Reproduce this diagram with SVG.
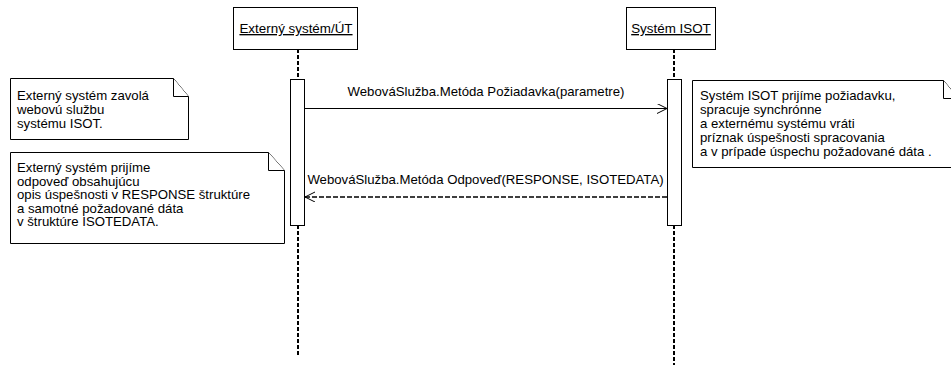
<svg xmlns="http://www.w3.org/2000/svg" width="951" height="365" viewBox="0 0 951 365">
<defs>
<style>
text{font-family:"Liberation Sans",Arial,sans-serif;font-size:13.2px;fill:#000}
.box{fill:#fff;stroke:#000;stroke-width:1}
.life{stroke:#000;stroke-width:2;stroke-dasharray:4 2;fill:none}
.note{fill:#fff;stroke:#000;stroke-width:1}
.msg{stroke:#000;stroke-width:1;fill:none}
.ret{stroke:#000;stroke-width:1.5;stroke-dasharray:5 2;fill:none}
.lbl{text-decoration:underline;font-size:13.4px}
</style>
<marker id="open" markerWidth="12" markerHeight="12" refX="10" refY="5" orient="auto" markerUnits="userSpaceOnUse">
<path d="M0,0 L10,5 L0,10" fill="none" stroke="#000" stroke-width="1"/>
</marker>
</defs>
<rect width="951" height="365" fill="#fff"/>

<g id="lifelines">
<line class="life" x1="298" y1="49" x2="298" y2="79"/>
<line class="life" x1="298" y1="225" x2="298" y2="357"/>
<line class="life" x1="674" y1="49" x2="674" y2="79"/>
<line class="life" x1="674" y1="225" x2="674" y2="365"/>
</g>

<g id="actor-externy">
<rect class="box" x="233.5" y="7.5" width="124" height="42"/>
<text class="lbl" x="296" y="33" text-anchor="middle">Externý systém/ÚT</text>
</g>
<g id="actor-isot">
<rect class="box" x="626.5" y="7.5" width="89" height="42"/>
<text class="lbl" x="671" y="33" text-anchor="middle">Systém ISOT</text>
</g>

<g id="activation-externy">
<rect class="box" x="290.5" y="79.5" width="14" height="146"/>
</g>
<g id="activation-isot">
<rect class="box" x="667.5" y="79.5" width="14" height="146"/>
</g>

<g id="connectors">
<line class="msg" x1="305" y1="108.5" x2="667" y2="108.5" marker-end="url(#open)"/>
<text x="486" y="96" text-anchor="middle">WebováSlužba.Metóda Požiadavka(parametre)</text>
<line class="ret" x1="667" y1="197" x2="305" y2="197" marker-end="url(#open)"/>
<text x="485.5" y="184" text-anchor="middle">WebováSlužba.Metóda Odpoveď(RESPONSE, ISOTEDATA)</text>
</g>

<g id="note-1">
<path class="note" d="M10.5,78.5 H173.5 L188.5,96.5 V139.5 H10.5 Z"/>
<path class="note" d="M173.5,78.5 V96.5 H188.5" fill="none"/>
<text x="17" y="100">Externý systém zavolá</text>
<text x="17" y="114">webovú službu</text>
<text x="17" y="128">systému ISOT.</text>
</g>

<g id="note-2">
<path class="note" d="M10.5,152.5 H268.5 L284.5,170.5 V243.5 H10.5 Z"/>
<path class="note" d="M268.5,152.5 V170.5 H284.5" fill="none"/>
<text x="17" y="172">Externý systém prijíme</text>
<text x="17" y="185.5">odpoveď obsahujúcu</text>
<text x="17" y="199">opis úspešnosti v RESPONSE štruktúre</text>
<text x="17" y="212.5">a samotné požadované dáta</text>
<text x="17" y="226">v štruktúre ISOTEDATA.</text>
</g>

<g id="note-3">
<path class="note" d="M692.5,80.5 H943.5 L958.5,98.5 V167.5 H692.5 Z"/>
<path class="note" d="M943.5,80.5 V98.5 H958.5" fill="none"/>
<text x="700" y="100">Systém ISOT prijíme požiadavku,</text>
<text x="700" y="114">spracuje synchrónne</text>
<text x="700" y="128">a externému systému vráti</text>
<text x="700" y="142">príznak úspešnosti spracovania</text>
<text x="700" y="156">a v prípade úspechu požadované dáta .</text>
</g>
</svg>
